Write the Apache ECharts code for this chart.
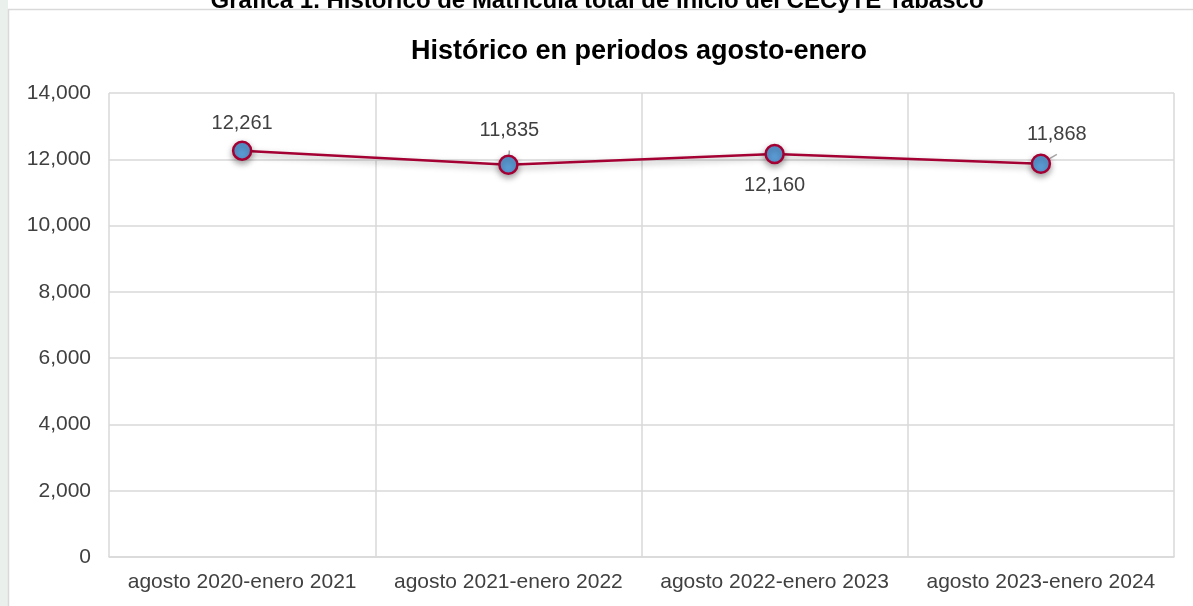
<!DOCTYPE html>
<html>
<head>
<meta charset="utf-8">
<script src="https://cdn.jsdelivr.net/npm/echarts@6/dist/echarts.min.js"></script>
<style>
html,body{margin:0;padding:0;background:#fff;}
#c{width:1193px;height:606px;}
</style>
</head>
<body>
<div id="c"></div>
<script>
const categories = ['agosto 2020-enero 2021','agosto 2021-enero 2022','agosto 2022-enero 2023','agosto 2023-enero 2024'];
const values = [12261, 11835, 12160, 11868];
const yTicks = {min: 0, max: 14000, interval: 2000};
const chartTitle = 'Histórico en periodos agosto-enero';
const pageTitle = 'Gráfica 1. Histórico de Matrícula total de inicio del CECyTE Tabasco';

const FONT = '"Liberation Sans", Arial, sans-serif';
const labelCfg = [
  {position: 'top', distance: 7},
  {position: 'top', offset: [1, -9], line: true},
  {position: 'bottom', distance: 11},
  {position: 'top', offset: [16, -4], line: true}
];

const chart = echarts.init(document.getElementById('c'));
chart.setOption({
  backgroundColor: '#ffffff',
  animation: false,
  graphic: [
    {type: 'rect', shape: {x: 0, y: 0, width: 8, height: 606}, style: {fill: '#eaf1ed'}, silent: true, z: -10},
    {type: 'rect', shape: {x: 8.5, y: 9.5, width: 1200, height: 620}, style: {fill: '#fff', stroke: '#d9d9d9', lineWidth: 1.5}, silent: true, z: -9},
    {type: 'text', x: 597, y: 13, style: {text: pageTitle, font: 'bold 24px ' + FONT, fill: '#000', align: 'center', verticalAlign: 'bottom'}, silent: true, z: 10}
  ],
  title: {
    text: chartTitle,
    left: 634, textAlign: 'center', top: 33,
    textStyle: {fontFamily: FONT, fontWeight: 'bold', fontSize: 27, color: '#000'}
  },
  grid: {left: 109, right: 19, top: 93, bottom: 49},
  xAxis: {
    type: 'category',
    data: categories,
    boundaryGap: true,
    axisLine: {show: true, lineStyle: {color: '#d9d9d9', width: 1.5}},
    axisTick: {show: false},
    splitLine: {show: true, lineStyle: {color: '#d9d9d9', width: 1.5}},
    axisLabel: {fontFamily: FONT, fontSize: 21, color: '#404040', margin: 15, interval: 0}
  },
  yAxis: {
    type: 'value',
    min: yTicks.min, max: yTicks.max, interval: yTicks.interval,
    axisLine: {show: false},
    axisTick: {show: false},
    splitLine: {show: true, lineStyle: {color: '#d9d9d9', width: 1.5}},
    axisLabel: {fontFamily: FONT, fontSize: 21, color: '#404040', margin: 18,
      formatter: v => v.toLocaleString('en-US')}
  },
  series: [{
    type: 'line',
    data: values.map((v, i) => {
      const c = labelCfg[i];
      const d = {value: v, label: {position: c.position}};
      if (c.distance !== undefined) d.label.distance = c.distance;
      if (c.offset) d.label.offset = c.offset;
      d.labelLine = {show: !!c.line, lineStyle: {color: '#a6a6a6', width: 1.5}};
      return d;
    }),
    symbol: 'circle',
    symbolSize: 18,
    lineStyle: {color: '#a50034', width: 2.5, shadowColor: 'rgba(0,0,0,0.35)', shadowBlur: 6, shadowOffsetY: 3},
    itemStyle: {color: '#5b9bd5', borderColor: '#a50034', borderWidth: 2.5, shadowColor: 'rgba(0,0,0,0.35)', shadowBlur: 6, shadowOffsetY: 3},
    label: {show: true, fontFamily: FONT, fontSize: 20, color: '#404040',
      formatter: p => p.value.toLocaleString('en-US')},
    emphasis: {disabled: true}
  }]
});
</script>
</body>
</html>
